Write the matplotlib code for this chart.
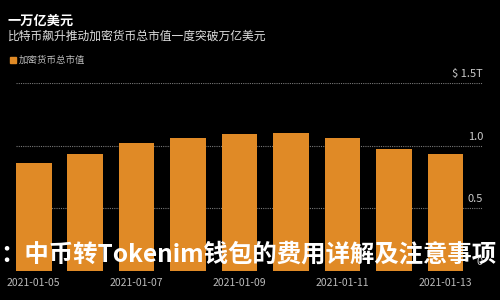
import matplotlib
matplotlib.use('Agg')
import matplotlib.pyplot as plt

plt.rcParams['font.family'] = ['Noto Sans CJK SC', 'DejaVu Sans']

# 数据
dates = ["2021-01-05", "2021-01-06", "2021-01-07", "2021-01-08", "2021-01-09",
         "2021-01-10", "2021-01-11", "2021-01-12", "2021-01-13"]
market_cap = [0.86, 0.93, 1.02, 1.065, 1.09, 1.10, 1.06, 0.97, 0.935]
y_ticks = [0, 0.5, 1.0, 1.5]
y_labels = ["0", "0.5", "1.0", "$ 1.5T"]

title = "一万亿美元"
subtitle = "比特币飙升推动加密货币总市值一度突破万亿美元"
legend_label = "加密货币总市值"
overlay = "：中币转Tokenim钱包的费用详解及注意事项"

bar_color = "#e08a26"
bg = "black"

fig = plt.figure(figsize=(5, 3), dpi=100, facecolor=bg)
ax = fig.add_axes([0.032, 0.097, 0.934, 0.626], facecolor=bg)

x = list(range(len(dates)))
ax.bar(x, market_cap, width=0.69, color=bar_color, zorder=2)

ax.set_xlim(-0.345, 8.73)
ax.set_ylim(0, 1.5)

# 虚线网格
for v in y_ticks[1:]:
    ax.axhline(v, color="#777777", lw=0.8, ls=(0, (1, 1)), zorder=1)

for v, lab in zip(y_ticks, y_labels):
    ax.annotate(lab, xy=(1, v), xycoords=("axes fraction", "data"),
                xytext=(0, 3), textcoords="offset points",
                ha="right", va="bottom", color="#cccccc", fontsize=8)

for spine in ax.spines.values():
    spine.set_visible(False)
ax.set_yticks([])
ax.set_xticks(x[::2])
ax.set_xticklabels(dates[::2], color="#bbbbbb", fontsize=7.5)
ax.tick_params(axis="x", length=0, pad=5)

fig.text(0.016, 0.93, title, color="white", fontsize=9.5, fontweight="bold",
         ha="left", va="center")
fig.text(0.016, 0.88, subtitle, color="#dddddd", fontsize=8.5,
         ha="left", va="center")

# 图例
fig.patches.append(plt.Rectangle((0.02, 0.79), 0.012, 0.02, color=bar_color,
                                 transform=fig.transFigure, figure=fig))
fig.text(0.038, 0.80, legend_label, color="#bbbbbb", fontsize=6.8,
         ha="left", va="center")

# 叠加文字
fig.text(0.0, 0.153, overlay, color="white", fontsize=17.6, fontweight="bold",
         ha="left", va="center")

fig.savefig("out.png", dpi=100, facecolor=bg)
